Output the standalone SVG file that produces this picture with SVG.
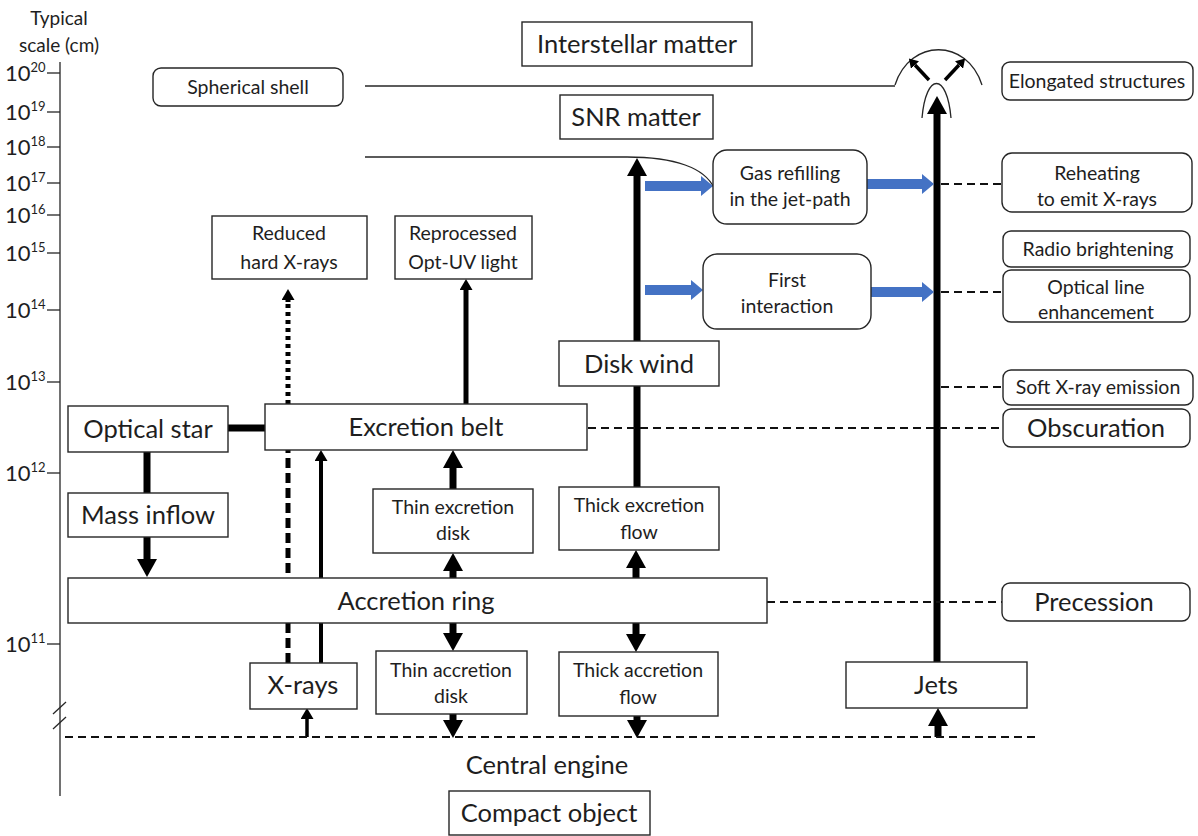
<svg xmlns="http://www.w3.org/2000/svg" width="1198" height="836" viewBox="0 0 1198 836">
<style>
text{font-family:Lato,"Liberation Sans",sans-serif;fill:#1e1e1e;text-anchor:middle}
.L{font-size:25.5px}.M{font-size:19.5px}.S{font-size:19px}
.ax{font-size:22px;text-anchor:start}.sup{font-size:13px;text-anchor:start}
.box{fill:#fff;stroke:#262626;stroke-width:1.4}
.thin{fill:none;stroke:#262626;stroke-width:1.3}
.k7{fill:none;stroke:#000;stroke-width:7}
.k5{fill:none;stroke:#000;stroke-width:5}
.k4{fill:none;stroke:#000;stroke-width:4}
.k3{fill:none;stroke:#000;stroke-width:3.5}
.dash{fill:none;stroke:#111;stroke-width:2;stroke-dasharray:8 5}
.blue{fill:none;stroke:#4472C4;stroke-width:10}
</style>
<defs>
<marker id="big" markerUnits="userSpaceOnUse" viewBox="0 0 18 20" markerWidth="18" markerHeight="20" refX="0" refY="10" orient="auto"><path d="M0,0 L18,10 L0,20 Z" fill="#000"/></marker>
<marker id="mid" markerUnits="userSpaceOnUse" viewBox="0 0 11 13" markerWidth="11" markerHeight="13" refX="0" refY="6.5" orient="auto"><path d="M0,0 L11,6.5 L0,13 Z" fill="#000"/></marker>
<marker id="sm" markerUnits="userSpaceOnUse" viewBox="0 0 9 11" markerWidth="9" markerHeight="11" refX="0" refY="5.5" orient="auto"><path d="M0,0 L9,5.5 L0,11 Z" fill="#000"/></marker>
<marker id="bl" markerUnits="userSpaceOnUse" viewBox="0 0 12 20" markerWidth="12" markerHeight="20" refX="0" refY="10" orient="auto"><path d="M0,0 L12,10 L0,20 Z" fill="#4472C4"/></marker>
</defs>
<rect width="1198" height="836" fill="#fff"/>
<g id="axis">
<text class="S" x="59" y="25">Typical</text>
<text class="S" x="59" y="52">scale (cm)</text>
<line x1="60" y1="62" x2="60" y2="796" class="thin"/>
<line x1="53" y1="714" x2="66" y2="702" class="thin"/>
<line x1="53" y1="729" x2="66" y2="717" class="thin"/>
<g class="thin">
<line x1="47" y1="73" x2="60" y2="73"/><line x1="47" y1="112" x2="60" y2="112"/><line x1="47" y1="147" x2="60" y2="147"/><line x1="47" y1="183" x2="60" y2="183"/><line x1="47" y1="215" x2="60" y2="215"/><line x1="47" y1="253" x2="60" y2="253"/><line x1="47" y1="310" x2="60" y2="310"/><line x1="47" y1="382" x2="60" y2="382"/><line x1="47" y1="473" x2="60" y2="473"/><line x1="47" y1="644" x2="60" y2="644"/>
</g>
<text class="ax" x="5" y="81">10<tspan class="sup" dy="-9">20</tspan></text>
<text class="ax" x="5" y="120">10<tspan class="sup" dy="-9">19</tspan></text>
<text class="ax" x="5" y="155">10<tspan class="sup" dy="-9">18</tspan></text>
<text class="ax" x="5" y="191">10<tspan class="sup" dy="-9">17</tspan></text>
<text class="ax" x="5" y="223">10<tspan class="sup" dy="-9">16</tspan></text>
<text class="ax" x="5" y="261">10<tspan class="sup" dy="-9">15</tspan></text>
<text class="ax" x="5" y="318">10<tspan class="sup" dy="-9">14</tspan></text>
<text class="ax" x="5" y="390">10<tspan class="sup" dy="-9">13</tspan></text>
<text class="ax" x="5" y="481">10<tspan class="sup" dy="-9">12</tspan></text>
<text class="ax" x="5" y="652">10<tspan class="sup" dy="-9">11</tspan></text>
</g>
<g id="connectors">
<line x1="365" y1="86" x2="895" y2="86" class="thin"/>
<path d="M365,157 L627,157 C675,157 705,168 714,188" class="thin"/>
<path d="M895,85 C910,38 967,38 982,85" class="thin"/>
<path d="M922,118 C926,72 947,72 951,118" class="thin"/>
<line x1="929" y1="80" x2="915" y2="65" class="k3" marker-end="url(#sm)"/>
<line x1="945" y1="80" x2="959" y2="65" class="k3" marker-end="url(#sm)"/>
<line x1="147" y1="452" x2="147" y2="493" class="k7"/>
<line x1="147" y1="537" x2="147" y2="559" class="k7" marker-end="url(#big)"/>
<line x1="228" y1="428" x2="265" y2="428" class="k7"/>
<line x1="288" y1="663" x2="288" y2="452" class="k5" stroke-dasharray="10 5"/>
<line x1="288" y1="452" x2="288" y2="300" class="k5" stroke-dasharray="4 4"/>
<line x1="288" y1="302" x2="288" y2="300" class="k5" marker-end="url(#mid)"/>
<line x1="321" y1="663" x2="321" y2="461" class="k4" marker-end="url(#mid)"/>
<line x1="466" y1="404" x2="466" y2="290" class="k5" marker-end="url(#mid)"/>
<line x1="453" y1="489" x2="453" y2="468" class="k7" marker-end="url(#big)"/>
<line x1="453" y1="578" x2="453" y2="571" class="k7" marker-end="url(#big)"/>
<line x1="636" y1="578" x2="636" y2="568" class="k7" marker-end="url(#big)"/>
<line x1="453" y1="623" x2="453" y2="633" class="k7" marker-end="url(#big)"/>
<line x1="636" y1="623" x2="636" y2="634" class="k7" marker-end="url(#big)"/>
<line x1="453" y1="714" x2="453" y2="720" class="k7" marker-end="url(#big)"/>
<line x1="637" y1="716" x2="637" y2="720" class="k7" marker-end="url(#big)"/>
<line x1="307" y1="737" x2="307" y2="719" class="k3" marker-end="url(#mid)"/>
<line x1="938" y1="737" x2="938" y2="726" class="k7" marker-end="url(#big)"/>
<line x1="937" y1="662" x2="937" y2="114" class="k7" marker-end="url(#big)"/>
<line x1="637" y1="487" x2="637" y2="176" class="k7" marker-end="url(#big)"/>
<line x1="645" y1="186" x2="701" y2="186" class="blue" marker-end="url(#bl)"/>
<line x1="645" y1="290" x2="691" y2="290" class="blue" marker-end="url(#bl)"/>
<line x1="867" y1="184" x2="922" y2="184" class="blue" marker-end="url(#bl)"/>
<line x1="871" y1="292" x2="922" y2="292" class="blue" marker-end="url(#bl)"/>
<line x1="941" y1="184" x2="1002" y2="184" class="dash"/>
<line x1="941" y1="292" x2="1003" y2="292" class="dash"/>
<line x1="941" y1="387" x2="1003" y2="387" class="dash"/>
<line x1="588" y1="428" x2="1003" y2="428" class="dash"/>
<line x1="767" y1="602" x2="1002" y2="602" class="dash"/>
<line x1="65" y1="737" x2="1035" y2="737" class="dash" stroke-width="2.5"/>
</g>
<g id="interstellar"><rect class="box" x="522" y="22" width="230" height="44"/><text class="L" x="637" y="53">Interstellar matter</text></g>
<g id="spherical"><rect class="box" x="153" y="68" width="190" height="38" rx="8"/><text class="M" x="248" y="94">Spherical shell</text></g>
<g id="snr"><rect class="box" x="560" y="95" width="153" height="44"/><text class="L" x="636" y="126">SNR matter</text></g>
<g id="elongated"><rect class="box" x="1002" y="62" width="191" height="38" rx="8"/><text class="M" x="1097" y="88">Elongated structures</text></g>
<g id="gasrefill"><rect class="box" x="713" y="150" width="154" height="74" rx="14"/><text class="M" x="790" y="180">Gas refilling</text><text class="M" x="790" y="206">in the jet-path</text></g>
<g id="reheating"><rect class="box" x="1002" y="153" width="190" height="59" rx="10"/><text class="M" x="1097" y="180">Reheating</text><text class="M" x="1097" y="206">to emit X-rays</text></g>
<g id="reduced"><rect class="box" x="212" y="216" width="155" height="63"/><text class="M" x="289" y="240">Reduced</text><text class="M" x="289" y="269">hard X-rays</text></g>
<g id="reprocessed"><rect class="box" x="395" y="216" width="137" height="63"/><text class="M" x="463" y="240">Reprocessed</text><text class="M" x="463" y="269">Opt-UV light</text></g>
<g id="radio"><rect class="box" x="1003" y="231" width="187" height="36" rx="8"/><text class="M" x="1098" y="256">Radio brightening</text></g>
<g id="first"><rect class="box" x="703" y="254" width="168" height="75" rx="14"/><text class="M" x="787" y="287">First</text><text class="M" x="787" y="313">interaction</text></g>
<g id="opticalline"><rect class="box" x="1003" y="270" width="187" height="52" rx="8"/><text class="M" x="1096" y="294">Optical line</text><text class="M" x="1096" y="319">enhancement</text></g>
<g id="diskwind"><rect class="box" x="559" y="341" width="160" height="45"/><text class="L" x="639" y="373">Disk wind</text></g>
<g id="softx"><rect class="box" x="1003" y="370" width="190" height="35" rx="8"/><text class="M" x="1098" y="394">Soft X-ray emission</text></g>
<g id="opticalstar"><rect class="box" x="68" y="406" width="160" height="46"/><text class="L" x="148" y="438">Optical star</text></g>
<g id="excretionbelt"><rect class="box" x="265" y="404" width="322" height="46"/><text class="L" x="426" y="436">Excretion belt</text></g>
<g id="obscuration"><rect class="box" x="1003" y="409" width="187" height="38" rx="8"/><text class="L" x="1096" y="437">Obscuration</text></g>
<g id="massinflow"><rect class="box" x="68" y="493" width="160" height="44"/><text class="L" x="148" y="524">Mass inflow</text></g>
<g id="thinexc"><rect class="box" x="373" y="489" width="160" height="64"/><text class="M" x="453" y="514">Thin excretion</text><text class="M" x="453" y="540">disk</text></g>
<g id="thickexc"><rect class="box" x="559" y="487" width="160" height="63"/><text class="M" x="639" y="512">Thick excretion</text><text class="M" x="639" y="539">flow</text></g>
<g id="accretionring"><rect class="box" x="68" y="578" width="699" height="45"/><text class="L" x="416" y="610">Accretion ring</text></g>
<g id="precession"><rect class="box" x="1002" y="583" width="188" height="38" rx="8"/><text class="L" x="1094" y="611">Precession</text></g>
<g id="xrays"><rect class="box" x="250" y="663" width="107" height="46"/><text class="L" x="303" y="694">X-rays</text></g>
<g id="thinacc"><rect class="box" x="376" y="651" width="151" height="63"/><text class="M" x="451" y="677">Thin accretion</text><text class="M" x="451" y="703">disk</text></g>
<g id="thickacc"><rect class="box" x="559" y="652" width="159" height="64"/><text class="M" x="638" y="677">Thick accretion</text><text class="M" x="638" y="704">flow</text></g>
<g id="jets"><rect class="box" x="846" y="662" width="181" height="46"/><text class="L" x="936" y="694">Jets</text></g>
<g id="centralengine"><text class="L" x="547" y="774">Central engine</text></g>
<g id="compact"><rect class="box" x="449" y="791" width="201" height="44"/><text class="L" x="549" y="822">Compact object</text></g>
</svg>
